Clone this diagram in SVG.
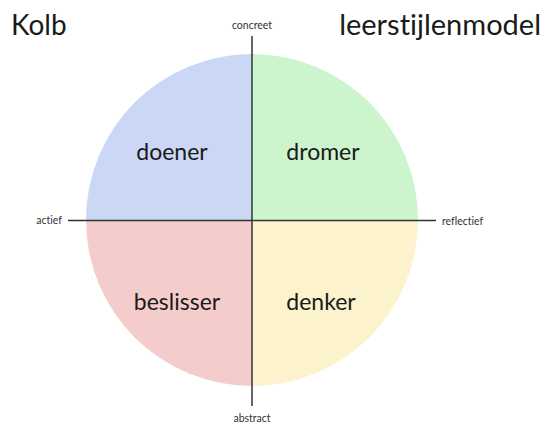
<svg xmlns="http://www.w3.org/2000/svg" width="546" height="425" viewBox="0 0 546 425">
<style>
text{font-variant-ligatures:none}
.big{font-family:Lato,"Open Sans","Liberation Sans",sans-serif;fill:#1a1a1a}
.title{font-size:28px}
.q{font-size:23px;text-anchor:middle}
.ax{font-family:Lato,"Open Sans","Liberation Sans",sans-serif;font-size:10.5px;fill:#333}
.axis{stroke:#333;stroke-width:1.5;fill:none}
</style>
<rect width="546" height="425" fill="#fff"/>
<text class="big title" x="11" y="35">Kolb</text>
<text class="big title" x="541" y="35" text-anchor="end" style="font-size:29px">leerstijlenmodel</text>
<g id="doener">
<path d="M252 220 L86 220 A166 166 0 0 1 252 54 Z" fill="#cad8f5"/>
<text class="big q" x="172" y="160">doener</text>
</g>
<g id="dromer">
<path d="M252 220 L252 54 A166 166 0 0 1 418 220 Z" fill="#ccf5cd"/>
<text class="big q" x="323" y="160">dromer</text>
</g>
<g id="beslisser">
<path d="M252 220 L252 386 A166 166 0 0 1 86 220 Z" fill="#f4cccc"/>
<text class="big q" x="177" y="310">beslisser</text>
</g>
<g id="denker">
<path d="M252 220 L418 220 A166 166 0 0 1 252 386 Z" fill="#fcf2cc"/>
<text class="big q" x="321" y="310">denker</text>
</g>
<g id="connectors">
<line class="axis" x1="68" y1="220.5" x2="436" y2="220.5"/>
<line class="axis" x1="252" y1="36" x2="252" y2="406"/>
</g>
<text class="ax" x="252" y="29" text-anchor="middle">concreet</text>
<text class="ax" x="62" y="224" text-anchor="end">actief</text>
<text class="ax" x="442" y="225">reflectief</text>
<text class="ax" x="252" y="422" text-anchor="middle">abstract</text>
</svg>
